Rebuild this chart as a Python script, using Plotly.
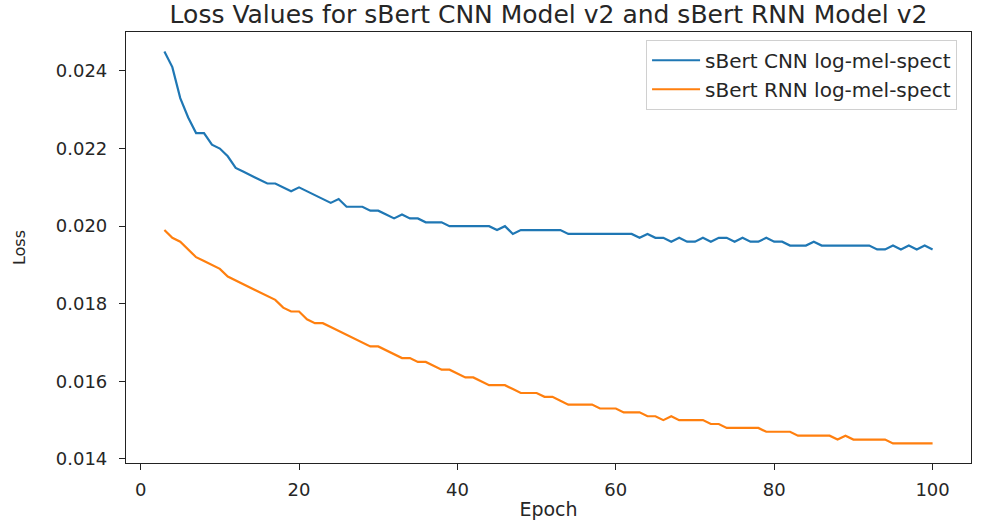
import plotly.graph_objects as go

epochs = list(range(3, 101))

cnn_loss = [
    0.0245, 0.0241, 0.0233, 0.0228, 0.0224, 0.0224, 0.0221, 0.0220, 0.0218, 0.0215,
    0.0214, 0.0213, 0.0212, 0.0211, 0.0211, 0.0210, 0.0209, 0.0210, 0.0209, 0.0208,
    0.0207, 0.0206, 0.0207, 0.0205, 0.0205, 0.0205, 0.0204, 0.0204, 0.0203, 0.0202,
    0.0203, 0.0202, 0.0202, 0.0201, 0.0201, 0.0201, 0.0200, 0.0200, 0.0200, 0.0200,
    0.0200, 0.0200, 0.0199, 0.0200, 0.0198, 0.0199, 0.0199, 0.0199, 0.0199, 0.0199,
    0.0199, 0.0198, 0.0198, 0.0198, 0.0198, 0.0198, 0.0198, 0.0198, 0.0198, 0.0198,
    0.0197, 0.0198, 0.0197, 0.0197, 0.0196, 0.0197, 0.0196, 0.0196, 0.0197, 0.0196,
    0.0197, 0.0197, 0.0196, 0.0197, 0.0196, 0.0196, 0.0197, 0.0196, 0.0196, 0.0195,
    0.0195, 0.0195, 0.0196, 0.0195, 0.0195, 0.0195, 0.0195, 0.0195, 0.0195, 0.0195,
    0.0194, 0.0194, 0.0195, 0.0194, 0.0195, 0.0194, 0.0195, 0.0194,
]

rnn_loss = [
    0.0199, 0.0197, 0.0196, 0.0194, 0.0192, 0.0191, 0.0190, 0.0189, 0.0187, 0.0186,
    0.0185, 0.0184, 0.0183, 0.0182, 0.0181, 0.0179, 0.0178, 0.0178, 0.0176, 0.0175,
    0.0175, 0.0174, 0.0173, 0.0172, 0.0171, 0.0170, 0.0169, 0.0169, 0.0168, 0.0167,
    0.0166, 0.0166, 0.0165, 0.0165, 0.0164, 0.0163, 0.0163, 0.0162, 0.0161, 0.0161,
    0.0160, 0.0159, 0.0159, 0.0159, 0.0158, 0.0157, 0.0157, 0.0157, 0.0156, 0.0156,
    0.0155, 0.0154, 0.0154, 0.0154, 0.0154, 0.0153, 0.0153, 0.0153, 0.0152, 0.0152,
    0.0152, 0.0151, 0.0151, 0.0150, 0.0151, 0.0150, 0.0150, 0.0150, 0.0150, 0.0149,
    0.0149, 0.0148, 0.0148, 0.0148, 0.0148, 0.0148, 0.0147, 0.0147, 0.0147, 0.0147,
    0.0146, 0.0146, 0.0146, 0.0146, 0.0146, 0.0145, 0.0146, 0.0145, 0.0145, 0.0145,
    0.0145, 0.0145, 0.0144, 0.0144, 0.0144, 0.0144, 0.0144, 0.0144,
]

series_names = ["sBert CNN log-mel-spect", "sBert RNN log-mel-spect"]
x_ticks = [0, 20, 40, 60, 80, 100]
y_ticks = [0.014, 0.016, 0.018, 0.020, 0.022, 0.024]

title_text = "Loss Values for sBert CNN Model v2 and sBert RNN Model v2"
x_title = "Epoch"
y_title = "Loss"

assert len(cnn_loss) == len(epochs) and len(rnn_loss) == len(epochs)

FONT = "DejaVu Sans"
TXT = "#262626"
AX = "#222222"

fig = go.Figure()
fig.add_trace(go.Scatter(x=epochs, y=cnn_loss, mode="lines", name=series_names[0],
                         line=dict(color="#1f77b4", width=2.2)))
fig.add_trace(go.Scatter(x=epochs, y=rnn_loss, mode="lines", name=series_names[1],
                         line=dict(color="#ff7f0e", width=2.2)))

# matplotlib-like 5% margins
allv = cnn_loss + rnn_loss
ymin, ymax = min(allv), max(allv)
yr = ymax - ymin
xmin, xmax = min(epochs), max(epochs)
xr = xmax - xmin

axis_common = dict(showline=True, mirror=True, linecolor=AX, linewidth=1.2,
                   ticks="outside", ticklen=6, tickwidth=1.2, tickcolor=AX,
                   showgrid=False, zeroline=False,
                   tickfont=dict(family=FONT, size=18, color=TXT))

fig.update_layout(
    width=981, height=525,
    margin=dict(l=126, r=9, t=32, b=55),
    paper_bgcolor="white", plot_bgcolor="white",
    title=dict(text=title_text, x=0.5, xref="paper", xanchor="center",
               y=1 - 14 / 525, yref="container", yanchor="middle",
               font=dict(family=FONT, size=25, color=TXT)),
    xaxis=dict(range=[xmin - 0.05 * xr, xmax + 0.05 * xr], tickvals=x_ticks,
               title=dict(text=x_title, font=dict(family=FONT, size=19, color=TXT), standoff=3),
               ticklabelstandoff=4,
               **axis_common),
    yaxis=dict(range=[ymin - 0.05 * yr, ymax + 0.05 * yr], tickvals=y_ticks,
               tickformat=".3f",
               title=dict(text=y_title, font=dict(family=FONT, size=16, color=TXT), standoff=26),
               ticklabelstandoff=8,
               **axis_common),
    legend=dict(x=0.9835, y=0.982, xanchor="right", yanchor="top",
                bgcolor="rgba(255,255,255,0.85)", bordercolor="#d0d0d0", borderwidth=1,
                font=dict(family=FONT, size=20, color=TXT),
                itemwidth=48, tracegroupgap=0),
    showlegend=True,
)

fig.write_html("out.html")
